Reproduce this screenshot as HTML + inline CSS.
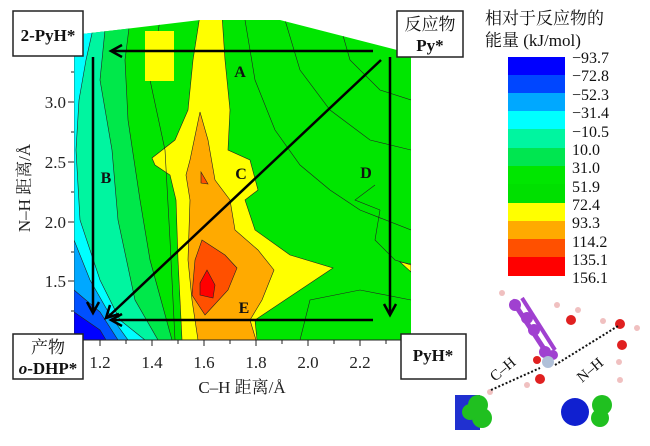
<!DOCTYPE html>
<html><head><meta charset="utf-8"><style>
body{margin:0;background:#fff;}
svg text{font-family:"Liberation Serif","Noto Serif CJK SC",serif;}
</style></head><body>
<svg width="650" height="441" viewBox="0 0 650 441" xmlns="http://www.w3.org/2000/svg">
<defs><clipPath id="c"><polygon points="74,57 74,35 200,20 280,20 397,50 411,57 411,340 74,340"/></clipPath></defs>
<g clip-path="url(#c)" stroke="#222" stroke-width="0.6">
<rect x="60" y="10" width="360" height="340" fill="#00e600" stroke="none"/>
<polygon fill="#00e84a" points="74,20 130,20 125,60 128,120 140,200 150,260 172,340 74,340"/>
<polygon fill="#00f5a0" points="74,20 106,20 100,80 112,150 118,220 135,300 158,340 74,340"/>
<polygon fill="#00ffff" points="74,20 95,20 86,60 79,100 76,150 80,220 100,280 120,320 145,340 74,340"/>
<polygon fill="#00a8ff" points="74,240 90,280 110,315 128,340 74,340"/>
<polygon fill="#0050ff" points="74,290 100,312 118,340 74,340"/>
<polygon fill="#0000ff" points="74,312 100,330 106,340 74,340"/>
<polygon fill="#00f5a0" points="340,20 360,40 400,40 411,50 411,20"/>
<polygon fill="#ffff00" points="200,15 222,15 225,60 230,110 228,150 250,160 258,190 245,200 255,230 290,255 333,268 300,290 255,320 257,340 182,340 178,260 176,200 170,175 155,165 152,158 175,140 188,110 193,60"/>
<polygon fill="#ffaa00" points="200,112 208,140 215,180 230,200 235,230 258,250 274,270 262,300 250,320 256,340 198,340 192,300 188,260 190,200 186,175 190,160"/>
<polygon fill="#ff5000" points="202,240 225,255 237,268 228,290 205,315 192,295 195,260"/>
<polygon fill="#ff0000" points="207,270 215,285 213,298 200,295 200,283"/>
<polygon fill="#ff5000" points="201,172 208,184 201,183"/>
<polygon fill="#ffff00" points="400,262 411,264 411,272"/>
<g fill="none">
<polyline points="160,20 150,80 165,150 170,240 175,340"/>
<polyline points="245,20 255,80 275,130 300,165 330,190 360,210 411,230"/>
<polyline points="285,20 300,70 330,110 370,140 411,150"/>
<polyline points="340,25 350,60 380,90 411,100"/>
<polyline points="375,185 355,200 380,210"/>
<polyline points="380,210 375,240 395,260 411,265"/>
<polyline points="300,340 310,300 360,290 411,300"/>
</g>
</g>
<rect x="145" y="31" width="29" height="50" fill="#ffff00"/>
<!-- axes ticks -->
<g stroke="#222" stroke-width="1">
<line x1="74" y1="340" x2="411" y2="340"/>
<line x1="100" y1="340" x2="100" y2="346"/><line x1="152" y1="340" x2="152" y2="346"/><line x1="204" y1="340" x2="204" y2="346"/><line x1="256" y1="340" x2="256" y2="346"/><line x1="308" y1="340" x2="308" y2="346"/><line x1="360" y1="340" x2="360" y2="346"/>
<line x1="126" y1="340" x2="126" y2="344"/><line x1="178" y1="340" x2="178" y2="344"/><line x1="230" y1="340" x2="230" y2="344"/><line x1="282" y1="340" x2="282" y2="344"/><line x1="334" y1="340" x2="334" y2="344"/><line x1="386" y1="340" x2="386" y2="344"/>
<line x1="68" y1="102" x2="74" y2="102"/><line x1="68" y1="162" x2="74" y2="162"/><line x1="68" y1="222" x2="74" y2="222"/><line x1="68" y1="281" x2="74" y2="281"/>
<line x1="71" y1="72" x2="74" y2="72"/><line x1="71" y1="132" x2="74" y2="132"/><line x1="71" y1="192" x2="74" y2="192"/><line x1="71" y1="252" x2="74" y2="252"/><line x1="71" y1="311" x2="74" y2="311"/>
</g>
<g font-size="17" fill="#222" text-anchor="middle">
<text x="100" y="368">1.2</text><text x="152" y="368">1.4</text><text x="204" y="368">1.6</text><text x="256" y="368">1.8</text><text x="308" y="368">2.0</text><text x="360" y="368">2.2</text>
</g>
<g font-size="17" fill="#222" text-anchor="end">
<text x="66" y="108">3.0</text><text x="66" y="168">2.5</text><text x="66" y="228">2.0</text><text x="66" y="287">1.5</text>
</g>
<text x="242" y="393" font-size="17" text-anchor="middle" fill="#222">C–H 距离/Å</text>
<text transform="translate(30,188) rotate(-90)" font-size="17" text-anchor="middle" fill="#222">N–H 距离/Å</text>
<!-- arrows -->
<g stroke="#000" stroke-width="2.5" fill="none">
<line x1="373" y1="51" x2="112" y2="51"/><polyline points="122,45 111,51 122,57"/>
<line x1="390" y1="57" x2="390" y2="314"/><polyline points="384,304 390,315 396,304"/>
<line x1="381" y1="60" x2="108" y2="317"/><polyline points="110,305 106,318 119,314"/>
<line x1="93" y1="57" x2="93" y2="312"/><polyline points="87,302 93,313 99,302"/>
<line x1="373" y1="320" x2="112" y2="320"/><polyline points="122,314 111,320 122,326"/>
</g>
<g font-size="16" font-weight="bold" fill="#111" text-anchor="middle">
<text x="240" y="77">A</text><text x="106" y="183">B</text><text x="241" y="179">C</text><text x="366" y="178">D</text><text x="244" y="313">E</text>
</g>
<!-- boxes -->
<g fill="#fff" stroke="#222" stroke-width="1.5">
<rect x="13" y="11" width="70" height="45"/><rect x="397" y="11" width="66" height="46"/>
<rect x="13" y="334" width="70" height="45"/><rect x="401" y="334" width="65" height="45"/>
</g>
<g font-size="17" font-weight="bold" fill="#111" text-anchor="middle">
<text x="48" y="41">2-PyH*</text>
<text x="430" y="30" font-weight="normal">反应物</text><text x="430" y="51">Py*</text>
<text x="48" y="353" font-weight="normal">产物</text><text x="48" y="374"><tspan font-style="italic">o</tspan>-DHP*</text>
<text x="433" y="361">PyH*</text>
</g>
<!-- colorbar -->
<text x="485" y="24" font-size="17" fill="#111">相对于反应物的</text>
<text x="485" y="46" font-size="17" fill="#111">能量 (kJ/mol)</text>
<g stroke="none">
<rect x="508" y="57" width="57" height="19" fill="#0000ff"/>
<rect x="508" y="75" width="57" height="19" fill="#0046ff"/>
<rect x="508" y="93" width="57" height="19" fill="#00a8ff"/>
<rect x="508" y="111" width="57" height="19" fill="#00ffff"/>
<rect x="508" y="129" width="57" height="19" fill="#00f5a0"/>
<rect x="508" y="148" width="57" height="19" fill="#00e650"/>
<rect x="508" y="166" width="57" height="19" fill="#00e600"/>
<rect x="508" y="184" width="57" height="19" fill="#00e000"/>
<rect x="508" y="203" width="57" height="19" fill="#ffff00"/>
<rect x="508" y="221" width="57" height="19" fill="#ffaa00"/>
<rect x="508" y="239" width="57" height="19" fill="#ff5000"/>
<rect x="508" y="257" width="57" height="19" fill="#ff0000"/>
</g>
<g font-size="16" fill="#111">
<text x="572" y="63">−93.7</text><text x="572" y="81">−72.8</text><text x="572" y="100">−52.3</text><text x="572" y="118">−31.4</text><text x="572" y="137">−10.5</text><text x="572" y="155">10.0</text><text x="572" y="173">31.0</text><text x="572" y="192">51.9</text><text x="572" y="210">72.4</text><text x="572" y="228">93.3</text><text x="572" y="247">114.2</text><text x="572" y="265">135.1</text><text x="572" y="283">156.1</text>
</g>
<!-- molecule -->
<g>
<line x1="512" y1="300" x2="548" y2="355" stroke="#a040d0" stroke-width="5"/>
<line x1="522" y1="298" x2="555" y2="350" stroke="#a040d0" stroke-width="4"/>
<circle cx="515" cy="305" r="6" fill="#a040d0"/><circle cx="527" cy="318" r="6" fill="#a040d0"/><circle cx="534" cy="330" r="6" fill="#a040d0"/><circle cx="545" cy="352" r="6" fill="#a040d0"/><circle cx="553" cy="355" r="5" fill="#a040d0"/>
<circle cx="548" cy="362" r="6" fill="#b0c0d8"/>
<circle cx="571" cy="320" r="5" fill="#e02020"/><circle cx="540" cy="379" r="5" fill="#e02020"/><circle cx="620" cy="324" r="5" fill="#e02020"/><circle cx="622" cy="345" r="5" fill="#e02020"/><circle cx="537" cy="360" r="4" fill="#e02020"/>
<g fill="#f0c0c0"><circle cx="502" cy="293" r="3"/><circle cx="557" cy="305" r="3"/><circle cx="578" cy="310" r="3"/><circle cx="603" cy="321" r="3"/><circle cx="637" cy="328" r="3"/><circle cx="619" cy="362" r="3"/><circle cx="527" cy="385" r="3"/><circle cx="620" cy="380" r="3"/><circle cx="490" cy="392" r="3"/></g>
<line x1="491" y1="390" x2="540" y2="368" stroke="#111" stroke-width="2" stroke-dasharray="2,2"/>
<line x1="555" y1="365" x2="618" y2="326" stroke="#111" stroke-width="2" stroke-dasharray="2,2"/>
<text transform="translate(495,382) rotate(-40)" font-size="15" fill="#111">C–H</text>
<text transform="translate(582,383) rotate(-40)" font-size="15" fill="#111">N–H</text>
<rect x="455" y="395" width="25" height="35" fill="#2030d0"/>
<circle cx="478" cy="405" r="10" fill="#20c020"/><circle cx="482" cy="418" r="10" fill="#20c020"/><circle cx="470" cy="412" r="8" fill="#20c020"/>
<circle cx="575" cy="412" r="14" fill="#1020d0"/><circle cx="602" cy="405" r="10" fill="#20c020"/><circle cx="600" cy="418" r="9" fill="#20c020"/>
</g>
</svg>
</body></html>
